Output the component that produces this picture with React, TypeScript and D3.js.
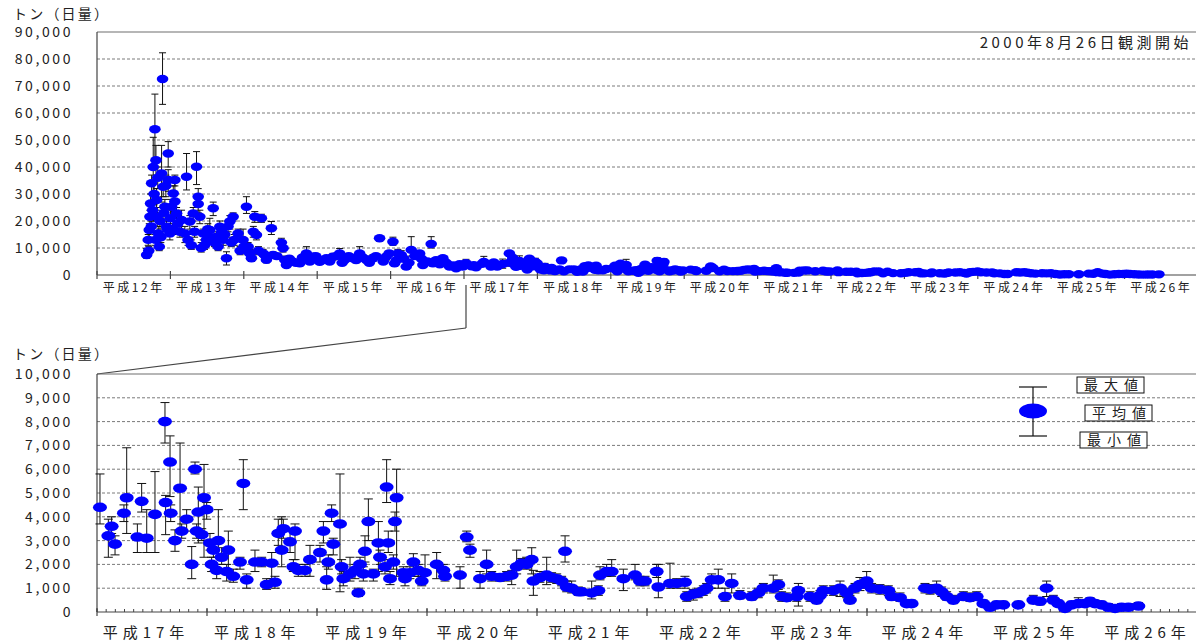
import React from 'react';
import * as d3 from 'd3';

// ---------- data: 平成12年〜16年 (top chart only) ----------
const earlyYear = [
  12.676, 12.698, 12.712, 12.721, 12.730, 12.744, 12.766, 12.789, 12.803, 12.812, 12.821, 12.834, 12.848, 12.880, 12.893,
  12.902, 12.925, 12.948, 12.970, 12.970, 12.993, 13.016, 13.039, 13.061, 13.061, 13.084, 13.152, 13.197, 13.220, 13.265,
  13.311, 13.356, 13.379, 13.379, 13.401, 13.447, 13.492, 13.537, 13.583, 13.628, 13.673, 13.719, 13.764, 13.810, 13.855,
  13.922, 13.990, 14.036, 14.059, 14.104, 14.150, 14.172, 14.240, 14.263, 14.308, 14.376, 14.399, 14.512, 14.535, 14.558,
  14.581, 14.671, 14.762, 14.853, 14.944, 15.034, 15.125, 15.215, 15.306, 15.374, 15.488, 15.578, 15.669, 15.760, 15.850,
  15.941, 16.032, 16.054, 16.099, 16.145, 16.213, 16.281, 16.395, 16.440, 16.553, 16.576, 16.712, 16.803, 16.893, 16.984,
  12.705, 12.740, 12.758, 12.778, 12.798, 12.828, 12.858, 12.870, 12.912, 12.938, 12.958, 13.000, 13.030, 13.100, 13.130,
  13.240, 13.285, 13.330, 13.420, 13.465, 13.510, 13.555, 13.600, 13.650, 13.700, 13.740, 13.785, 13.830, 13.870, 13.950,
  14.000, 14.080, 14.130, 14.200, 14.280, 14.330, 14.450, 14.620, 14.710, 14.800, 14.900, 14.980, 15.080, 15.170, 15.260,
  15.340, 15.430, 15.530, 15.620, 15.710, 15.800, 15.900, 15.980, 16.080, 16.180, 16.250, 16.330, 16.420, 16.500, 16.620,
  16.670, 16.760, 16.850, 16.940,
];
const earlyMean = [
  7400, 13000, 16700, 21600, 26500, 34000, 40000, 54000, 42500, 27800, 21600, 15400, 10500, 37600, 72600,
  32700, 25300, 17900, 45000, 35200, 15400, 25300, 30200, 35200, 27200, 22800, 20400, 15400, 36400, 19800,
  22800, 40100, 29000, 26300, 21600, 15400, 13000, 16700, 24700, 14200, 17900, 13000, 6200, 19800, 21600,
  15400, 13000, 25300, 10500, 6200, 21600, 14800, 21000, 8000, 5600, 17300, 7400, 12000, 9900, 5600,
  3700, 4900, 4300, 8000, 6800, 4900, 6200, 6800, 8000, 5600, 6200, 8000, 5600, 6200, 13600,
  6800, 12300, 4300, 8000, 7400, 3100, 9300, 8000, 3700, 11500, 4300, 6200, 3100, 2500, 3100,
  9000, 18000, 24000, 30000, 13000, 36000, 20000, 14000, 23000, 33000, 17000, 21000, 17000, 19000, 16000,
  13000, 11000, 16000, 10000, 11000, 17000, 14000, 12000, 10500, 16000, 15000, 18000, 12000, 13000, 9000,
  10500, 8000, 16000, 9000, 7500, 7000, 7000, 6000, 4500, 6500, 5000, 7000, 5500, 5000, 7000,
  4500, 7000, 5500, 6500, 4500, 7000, 5000, 8000, 5500, 6000, 4500, 7000, 6000, 5000, 5500,
  4000, 4500, 3500, 4000,
];
const earlyMax = [
  9800, 15000, 19000, 24000, 30000, 37000, 51000, 67000, 48000, 32000, 25000, 18000, 13000, 48000, 82300,
  36000, 28000, 20000, 49400, 39000, 17000, 28000, 33000, 37000, 36000, 25000, 24000, 18000, 45000, 22000,
  25000, 45700, 32000, 29000, 24000, 17000, 15000, 21000, 27000, 16000, 20000, 15000, 8600, 22000, 23000,
  17000, 17000, 29000, 12000, 7500, 23500, 16000, 22500, 9500, 7000, 19800, 8500, 13600, 11000, 7000,
  4500, 6000, 5000, 10500, 8000, 6000, 7000, 8000, 9800, 7000, 7500, 10500, 7000, 7500, 14500,
  8000, 14000, 5500, 9500, 9000, 4000, 14200, 9000, 4500, 14200, 5000, 7000, 4000, 3200, 3800,
  10500, 20000, 27000, 34000, 15000, 40000, 23000, 16000, 26000, 37000, 19000, 24000, 19000, 21000, 18000,
  15000, 13000, 18000, 12000, 13000, 19000, 16000, 14000, 12000, 18000, 17000, 20000, 14000, 15000, 10500,
  12000, 9500, 18000, 10500, 8500, 8000, 8000, 7000, 5500, 7500, 6000, 8000, 6500, 6000, 8000,
  5500, 8000, 6500, 7500, 5500, 8000, 6000, 9000, 6500, 7000, 5500, 8000, 7000, 6000, 6500,
  5000, 5500, 4200, 4800,
];
const earlyMin = [
  6200, 11000, 14000, 18000, 22000, 30000, 20000, 42000, 36000, 24000, 18000, 12000, 9000, 27000, 63200,
  29000, 22000, 15000, 40000, 31000, 13000, 22000, 27000, 33000, 23000, 20000, 17000, 12000, 31500, 17000,
  20000, 33500, 26000, 23000, 19000, 13000, 11000, 14000, 22000, 12000, 15000, 11000, 3700, 17000, 20000,
  13000, 11000, 22800, 9000, 5000, 19500, 13000, 19500, 7000, 4500, 15000, 6500, 10000, 8500, 4500,
  3000, 4000, 3500, 6000, 5500, 4000, 5000, 5500, 6500, 4500, 5000, 6500, 4500, 5000, 12500,
  5500, 11000, 3500, 6500, 6000, 2500, 7000, 7000, 3000, 10000, 3500, 5000, 2500, 2000, 2500,
  7500, 16000, 21000, 26000, 11000, 32000, 17000, 12000, 20000, 29000, 15000, 18000, 15000, 17000, 14000,
  11000, 9500, 14000, 8500, 9500, 15000, 12000, 10500, 9000, 14000, 13000, 16000, 10500, 11000, 7500,
  9000, 6500, 14000, 7500, 6500, 6000, 6000, 5000, 3800, 5500, 4200, 6000, 4500, 4200, 6000,
  3800, 6000, 4500, 5500, 3800, 6000, 4200, 7000, 4500, 5000, 3800, 6000, 5000, 4200, 4500,
  3300, 3800, 2800, 3300,
];

// ---------- data: 平成17年〜26年 (both charts) ----------
const lateYear = [
  17.027, 17.103, 17.133, 17.164, 17.245, 17.270, 17.367, 17.406, 17.452, 17.527, 17.618, 17.624, 17.664, 17.670, 17.709,
  17.755, 17.770, 17.815, 17.861, 17.891, 17.906, 17.921, 17.952, 17.973, 17.997, 18.027, 18.042, 18.058, 18.088, 18.103,
  18.133, 18.179, 18.194, 18.239, 18.300, 18.330, 18.361, 18.436, 18.497, 18.542, 18.588, 18.618, 18.648, 18.679, 18.694,
  18.755, 18.785, 18.800, 18.830, 18.891, 18.936, 19.027, 19.058, 19.088, 19.103, 19.133, 19.148, 19.209, 19.224, 19.239,
  19.300, 19.345, 19.376, 19.391, 19.421, 19.436, 19.467, 19.512, 19.558, 19.573, 19.618, 19.633, 19.648, 19.664, 19.694,
  19.709, 19.724, 19.785, 19.800, 19.845, 19.876, 19.921, 19.952, 19.982, 20.088, 20.148, 20.164, 20.300, 20.361, 20.391,
  20.482, 20.542, 20.588, 20.664, 20.724, 20.770, 20.815, 20.861, 20.906, 20.952, 20.967, 21.027, 21.088, 21.133, 21.179,
  21.224, 21.255, 21.270, 21.315, 21.376, 21.406, 21.497, 21.558, 21.573, 21.633, 21.679, 21.785, 21.891, 21.936, 21.982,
  22.088, 22.103, 22.209, 22.270, 22.345, 22.361, 22.421, 22.467, 22.512, 22.542, 22.588, 22.648, 22.709, 22.770, 22.845,
  22.952, 23.012, 23.058, 23.148, 23.194, 23.224, 23.270, 23.361, 23.376, 23.482, 23.542, 23.573, 23.603, 23.694, 23.755,
  23.815, 23.845, 23.891, 23.936, 23.997, 24.042, 24.118, 24.194, 24.224, 24.300, 24.361, 24.406, 24.527, 24.573, 24.633,
  24.679, 24.724, 24.785, 24.876, 24.936, 24.997, 25.058, 25.118, 25.179, 25.239, 25.376, 25.512, 25.573, 25.633, 25.694,
  25.739, 25.800, 25.861, 25.921, 25.982, 26.027, 26.073, 26.133, 26.194, 26.255, 26.315, 26.376, 26.467,
];
const lateMean = [
  4400, 3200, 3600, 2850, 4150, 4800, 3150, 4650, 3100, 4100, 8000, 4600, 6300, 4150, 3000,
  5200, 3400, 3900, 2000, 6000, 3400, 4200, 3250, 4800, 4300, 2900, 2000, 2600, 1750, 3000,
  2300, 1700, 2600, 1500, 2100, 5400, 1350, 2100, 2100, 1150, 2050, 1250, 3300, 2600, 3500,
  2950, 1900, 3400, 1750, 1750, 2200, 2500, 3400, 1350, 2100, 4150, 2850, 3700, 1900, 1400,
  1600, 1750, 800, 2000, 1600, 2550, 3800, 1600, 2900, 2300, 1900, 5250, 2900, 1400, 2100,
  3800, 4800, 1650, 1400, 1650, 2100, 1750, 1300, 1650, 2000, 1750, 1500, 1550, 3150, 2600,
  1400, 2000, 1500, 1450, 1500, 1550, 1900, 2050, 2000, 2200, 1300, 1450, 1550, 1450, 1400,
  1300, 2550, 1050, 1000, 850, 850, 800, 900, 1550, 1700, 1700, 1400, 1550, 1300, 1300,
  1700, 1050, 1200, 1200, 1250, 650, 750, 800, 900, 1000, 1350, 1350, 650, 1200, 700,
  650, 800, 1000, 1000, 1150, 650, 600, 650, 900, 650, 500, 700, 900, 900, 1000,
  800, 500, 1000, 1150, 1300, 1000, 950, 900, 650, 600, 350, 350, 1000, 950, 1000,
  850, 650, 500, 650, 600, 650, 350, 200, 300, 300, 300, 500, 450, 1000, 500,
  350, 150, 300, 350, 350, 450, 350, 300, 200, 150, 200, 200, 250,
];
const lateMax = [
  5800, 3900, 4000, 3200, 4500, 6900, 3700, 5400, 4300, 5900, 8800, 4900, 7400, 4500, 3450,
  7100, 3700, 4300, 2750, 6300, 3700, 5250, 3500, 6200, 4600, 3300, 2300, 2900, 2000, 4300,
  2700, 2000, 3400, 1800, 2300, 6400, 1600, 2600, 2300, 1400, 2500, 1500, 3900, 4000, 3900,
  3400, 2200, 3700, 2000, 2000, 2800, 2800, 3800, 1900, 2400, 4500, 3100, 5800, 2200, 1700,
  2300, 2000, 1000, 2300, 1900, 3200, 4750, 1800, 3800, 2600, 2200, 6400, 3400, 1700, 2400,
  4200, 6000, 1900, 1700, 1900, 2450, 2000, 1500, 2400, 2500, 2000, 1700, 1900, 3400, 2850,
  1700, 2600, 1700, 1600, 1700, 1750, 2600, 2250, 2300, 2700, 1750, 1700, 2300, 1650, 1600,
  1500, 3200, 1300, 1300, 1050, 1000, 1300, 1100, 1900, 2000, 2200, 1800, 2000, 1500, 1500,
  2000, 2000, 2050, 1400, 1500, 850, 950, 1000, 1100, 1200, 1600, 1800, 1000, 1600, 900,
  850, 1000, 1200, 1550, 1350, 850, 800, 850, 1200, 850, 700, 900, 1100, 1100, 1300,
  1000, 700, 1200, 1450, 1700, 1200, 1150, 1100, 850, 800, 500, 500, 1200, 1150, 1300,
  1050, 850, 700, 850, 800, 850, 500, 350, 450, 450, 450, 700, 600, 1300, 700,
  500, 300, 450, 600, 500, 600, 500, 450, 350, 300, 350, 350, 400,
];
const lateMin = [
  3700, 2300, 3300, 2400, 3800, 3300, 2500, 4200, 2500, 2500, 7100, 3250, 4850, 3800, 2550,
  3450, 3100, 3400, 1400, 5800, 3100, 2900, 3000, 2300, 3900, 2600, 1700, 2300, 1400, 2300,
  2000, 1300, 1600, 1250, 1800, 4300, 1000, 1700, 1900, 950, 1400, 1000, 2800, 1900, 3100,
  2500, 1700, 2200, 1500, 1500, 1500, 2100, 2900, 950, 1800, 3800, 2400, 850, 1600, 1100,
  1300, 1400, 650, 1700, 1300, 2100, 3000, 1300, 1700, 2000, 1600, 4600, 2500, 1150, 1800,
  3400, 1500, 1400, 1100, 1400, 1500, 1500, 1100, 1600, 1400, 1500, 1300, 1000, 2950, 2300,
  1000, 1600, 1300, 1300, 1300, 1150, 1600, 1850, 1800, 1600, 700, 1250, 1150, 1250, 1200,
  1100, 2100, 850, 800, 700, 700, 550, 700, 1350, 1500, 1500, 900, 1350, 1100, 1100,
  1450, 600, 1000, 1000, 1000, 450, 500, 600, 700, 800, 1000, 1000, 450, 800, 550,
  500, 600, 800, 800, 950, 450, 450, 450, 250, 450, 350, 550, 700, 700, 650,
  600, 350, 800, 900, 1000, 800, 750, 700, 500, 450, 250, 250, 800, 750, 800,
  650, 500, 350, 500, 450, 500, 250, 100, 200, 200, 200, 350, 300, 650, 350,
  250, 80, 200, 250, 250, 300, 250, 200, 120, 80, 120, 120, 150,
];

// ---------- axes / labels ----------
const topYearLabels = ['平成12年', '平成13年', '平成14年', '平成15年', '平成16年', '平成17年', '平成18年', '平成19年',
  '平成20年', '平成21年', '平成22年', '平成23年', '平成24年', '平成25年', '平成26年'];
const bottomYearLabels = ['平成17年', '平成18年', '平成19年', '平成20年', '平成21年', '平成22年', '平成23年', '平成24年',
  '平成25年', '平成26年'];
const topYTicks = [0, 10000, 20000, 30000, 40000, 50000, 60000, 70000, 80000, 90000];
const bottomYTicks = [0, 1000, 2000, 3000, 4000, 5000, 6000, 7000, 8000, 9000, 10000];
const unitLabel = 'トン（日量）';
const startNote = '2000年8月26日観測開始';
const legendLabels = ['最大値', '平均値', '最小値'];

const FONT = "'Noto Sans CJK JP', 'Noto Sans', sans-serif";
const fmt = d3.format(',');

type ChartProps = {
  left: number; right: number; top: number; bottom: number;
  firstYear: number; yMax: number; yTicks: number[]; labels: string[];
  labelFirst: number; labelLast: number;
  xs: number[]; means: number[]; maxs: number[]; mins: number[];
  rx: number; ry: number; cap: number;
  labelSize: number; labelSpacing: number; labelY: number; monthly: boolean;
};

function Chart(p: ChartProps) {
  const x = d3.scaleLinear().domain([p.firstYear, p.firstYear + p.labels.length]).range([p.left, p.right]);
  const y = d3.scaleLinear().domain([0, p.yMax]).range([p.bottom, p.top]);
  const lx = d3.scaleLinear().domain([0, p.labels.length - 1]).range([p.labelFirst, p.labelLast]);
  const years = d3.range(p.firstYear, p.firstYear + p.labels.length + 1);
  const months = p.monthly ? d3.range(p.firstYear * 12, (p.firstYear + p.labels.length) * 12).map((m) => m / 12) : [];
  return (
    <g>
      {p.yTicks.filter((t) => t > 0 && t < p.yMax).map((t) => (
        <line key={'g' + t} x1={p.left} x2={p.right} y1={y(t)} y2={y(t)} stroke="#7a7a7a" strokeWidth={1} strokeDasharray="3,2" />
      ))}
      <line x1={p.left} x2={p.right} y1={p.top} y2={p.top} stroke="#6e6e6e" strokeWidth={1.2} />
      <line x1={p.left} x2={p.left} y1={p.top} y2={p.bottom} stroke="#444" strokeWidth={1.2} />
      <line x1={p.left} x2={p.right} y1={p.bottom} y2={p.bottom} stroke="#444" strokeWidth={1.2} />
      {months.map((m, i) => (
        <line key={'m' + i} x1={x(m)} x2={x(m)} y1={p.bottom - 3} y2={p.bottom} stroke="#444" strokeWidth={1} />
      ))}
      {years.map((yr) => (
        <line key={'t' + yr} x1={x(yr)} x2={x(yr)} y1={p.bottom - 4} y2={p.bottom + 4} stroke="#444" strokeWidth={1.2} />
      ))}
      {p.yTicks.map((t) => (
        <text key={'l' + t} x={73} y={y(t)} dy="0.36em" textAnchor="end" fontFamily={FONT} fontSize={14}
          letterSpacing={2.6} fill="#222">{fmt(t)}</text>
      ))}
      {p.labels.map((lab, i) => (
        <text key={'x' + i} x={lx(i) + p.labelSpacing / 2} y={p.labelY} textAnchor="middle"
          fontFamily={FONT} fontSize={p.labelSize} letterSpacing={p.labelSpacing} fill="#222">{lab}</text>
      ))}
      {p.xs.map((v, i) => {
        const cx = x(v);
        return (
          <g key={'e' + i} stroke="#111" strokeWidth={1}>
            <line x1={cx} x2={cx} y1={y(p.maxs[i])} y2={y(p.mins[i])} />
            <line x1={cx - p.cap} x2={cx + p.cap} y1={y(p.maxs[i])} y2={y(p.maxs[i])} />
            <line x1={cx - p.cap} x2={cx + p.cap} y1={y(p.mins[i])} y2={y(p.mins[i])} />
          </g>
        );
      })}
      {p.xs.map((v, i) => (
        <ellipse key={'d' + i} cx={x(v)} cy={y(p.means[i])} rx={p.rx} ry={p.ry} fill="#0000ff" />
      ))}
    </g>
  );
}

export default function App() {
  const allYear = earlyYear.concat(lateYear);
  const allMean = earlyMean.concat(lateMean);
  const allMax = earlyMax.concat(lateMax);
  const allMin = earlyMin.concat(lateMin);
  const topX = d3.scaleLinear().domain([12, 27]).range([97, 1198]);
  const conX = topX(17) + 2;
  return (
    <svg width={1196} height={642} style={{ position: 'absolute', left: 0, top: 0, background: '#fff' }}>
      <rect x={0} y={0} width={1196} height={642} fill="#fff" />
      <text x={13} y={19} fontFamily={FONT} fontSize={14} letterSpacing={2.2} fill="#222">{unitLabel}</text>
      <Chart left={97} right={1198} top={32} bottom={275} firstYear={12} yMax={90000} yTicks={topYTicks}
        labels={topYearLabels} labelFirst={132.5} labelLast={1160} xs={allYear} means={allMean} maxs={allMax} mins={allMin}
        rx={5.8} ry={4.2} cap={3.5} labelSize={12} labelSpacing={2.6} labelY={292} monthly={false} />
      <text x={1192} y={48} textAnchor="end" fontFamily={FONT} fontSize={15} letterSpacing={3.5} fill="#222">{startNote}</text>

      <line x1={conX} x2={conX} y1={285} y2={328} stroke="#444" strokeWidth={1.2} />
      <line x1={conX} x2={97} y1={328} y2={374} stroke="#444" strokeWidth={1.2} />

      <text x={13} y={359} fontFamily={FONT} fontSize={14} letterSpacing={2.2} fill="#222">{unitLabel}</text>
      <Chart left={97} right={1197} top={374} bottom={612} firstYear={17} yMax={10000} yTicks={bottomYTicks}
        labels={bottomYearLabels} labelFirst={143.5} labelLast={1145} xs={lateYear} means={lateMean} maxs={lateMax} mins={lateMin}
        rx={7} ry={4.8} cap={4.5} labelSize={15} labelSpacing={5} labelY={638} monthly={true} />

      <g stroke="#111" strokeWidth={1.2}>
        <line x1={1033} x2={1033} y1={387} y2={436} />
        <line x1={1019} x2={1047} y1={387} y2={387} />
        <line x1={1019} x2={1047} y1={436} y2={436} />
      </g>
      <ellipse cx={1033} cy={411} rx={14} ry={7.5} fill="#0000ff" />
      {legendLabels.map((lab, i) => {
        const bx = [1077, 1085, 1080][i];
        const by = [377, 405, 432][i];
        return (
          <g key={lab}>
            <rect x={bx} y={by} width={67} height={16} fill="#fff" stroke="#111" strokeWidth={1} />
            <text x={bx + 34 + 3} y={by + 13} textAnchor="middle" fontFamily={FONT} fontSize={14} letterSpacing={6} fill="#222">{lab}</text>
          </g>
        );
      })}
    </svg>
  );
}
